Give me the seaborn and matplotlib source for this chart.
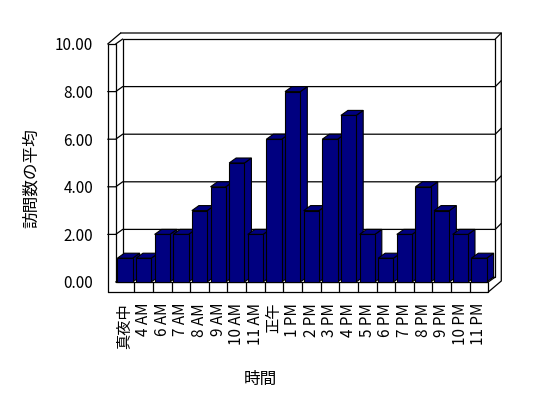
import matplotlib
matplotlib.use('Agg')
import matplotlib.pyplot as plt
import seaborn as sns
import pandas as pd
from matplotlib.patches import Polygon

# ---- data ----
hours = ['真夜中', '4 AM', '6 AM', '7 AM', '8 AM', '9 AM', '10 AM', '11 AM', '正午',
         '1 PM', '2 PM', '3 PM', '4 PM', '5 PM', '6 PM', '7 PM', '8 PM', '9 PM',
         '10 PM', '11 PM']
visits = [1, 1, 2, 2, 3, 4, 5, 2, 6, 8, 3, 6, 7, 2, 1, 2, 4, 3, 2, 1]
y_ticks = [0, 2, 4, 6, 8, 10]
y_tick_labels = ['0.00', '2.00', '4.00', '6.00', '8.00', '10.00']
x_title = '時間'
y_title = '訪問数の平均'

sns.set_theme(style='white')
plt.rcParams['font.family'] = ['Noto Sans CJK JP', 'DejaVu Sans']

W, H = 548, 398
fig = plt.figure(figsize=(W / 100, H / 100), dpi=100)
fig.patch.set_facecolor('white')

# pixel geometry of the pseudo-3D frame
X0, SX = 125.0, 18.63   # px of category 0, px per category
Y0, SY = 282.0, 23.8    # px of value 0, px per unit
xlim = (-0.97, 20.25)
ylim = (-0.47, 10.5)
left_px = X0 + SX * xlim[0]
right_px = X0 + SX * xlim[1]
bot_px = Y0 - SY * ylim[0]
top_px = Y0 - SY * ylim[1]
ax = fig.add_axes([left_px / W, (H - bot_px) / H,
                   (right_px - left_px) / W, (bot_px - top_px) / H])
ax.set_facecolor('none')

df = pd.DataFrame({'hour': hours, 'visits': visits})
sns.barplot(data=df, x='hour', y='visits', color='#000080', saturation=1,
            width=0.82, edgecolor='black', linewidth=0.8, ax=ax)

ax.set_xlim(*xlim)
ax.set_ylim(*ylim)
for s in ax.spines.values():
    s.set_visible(False)

ddx, ddy = 7 / SX, 5 / SY      # depth of plot area / bars
tx, ty = 6 / SX, 6 / SY        # wall thickness
lwx = 8 / SX                   # left wall front face width
fl = 10 / SY                   # floor thickness
xl, xr = -0.5, len(hours) - 0.5
ymax = y_ticks[-1]
LW = 0.9


def line(pts, z=2):
    xs = [p[0] for p in pts]
    ys = [p[1] for p in pts]
    ax.plot(xs, ys, color='black', lw=LW, clip_on=False, zorder=z,
            solid_joinstyle='miter')


# back wall inner face
line([(xl + ddx, ddy), (xl + ddx, ymax + ddy), (xr + ddx, ymax + ddy),
      (xr + ddx, ddy), (xl + ddx, ddy)])
# outer edge of back wall and right side
line([(xl - lwx + ddx + tx, ymax + ddy + ty), (xr + ddx + tx, ymax + ddy + ty),
      (xr + ddx + tx, -fl + ddy + ty), (xr, -fl)])
line([(xr + ddx, ymax + ddy), (xr + ddx + tx, ymax + ddy + ty)])
# left wall front face
line([(xl, 0), (xl, ymax), (xl - lwx, ymax), (xl - lwx, -fl)])
line([(xl - lwx, ymax), (xl - lwx + ddx + tx, ymax + ddy + ty)])
line([(xl, ymax), (xl + ddx, ymax + ddy)])
# gridlines
for v in y_ticks[1:-1]:
    line([(xl - lwx, v), (xl, v), (xl + ddx, v + ddy), (xr + ddx, v + ddy),
          (xr + ddx + tx, v + ddy + ty)])
# floor
line([(xl - lwx, -fl), (xr, -fl), (xr, 0), (xl, 0)])
line([(xl, 0), (xl + ddx, ddy)])
line([(xr, 0), (xr + ddx, ddy)])
for k in range(len(hours) - 1):
    line([(k + 0.5, -fl), (k + 0.5, 0)])

# 3D faces of the bars, drawn from seaborn's bar patches
bars = sorted(ax.patches, key=lambda p: p.get_x())
for i, p in enumerate(bars):
    x0, w, h = p.get_x(), p.get_width(), p.get_height()
    z = 10 + 2 * i
    top = Polygon([(x0, h), (x0 + w, h), (x0 + w + ddx, h + ddy), (x0 + ddx, h + ddy)],
                  closed=True, facecolor='#000080', edgecolor='black', lw=0.8,
                  zorder=z, clip_on=False)
    side = Polygon([(x0 + w, 0), (x0 + w, h), (x0 + w + ddx, h + ddy), (x0 + w + ddx, ddy)],
                   closed=True, facecolor='#000080', edgecolor='black', lw=0.8,
                   zorder=z, clip_on=False)
    ax.add_patch(side)
    ax.add_patch(top)
    p.set_zorder(z + 1)
    p.set_clip_on(False)

ax.set_yticks(y_ticks, y_tick_labels)
ax.set_xticks(range(len(hours)), hours, rotation=90)
ax.tick_params(axis='y', length=0, pad=10, labelsize=11, colors='black')
ax.tick_params(axis='x', length=0, pad=7, labelsize=11, colors='black')

ax.set_xlabel(x_title, fontsize=12, color='black')
ax.set_ylabel(y_title, fontsize=12, color='black')
ax.xaxis.set_label_coords((260 - left_px) / (right_px - left_px),
                          (bot_px - 371) / (bot_px - top_px))
ax.yaxis.set_label_coords((40 - left_px) / (right_px - left_px),
                          (bot_px - 178) / (bot_px - top_px))

fig.savefig('out.png', dpi=100, facecolor='white')
